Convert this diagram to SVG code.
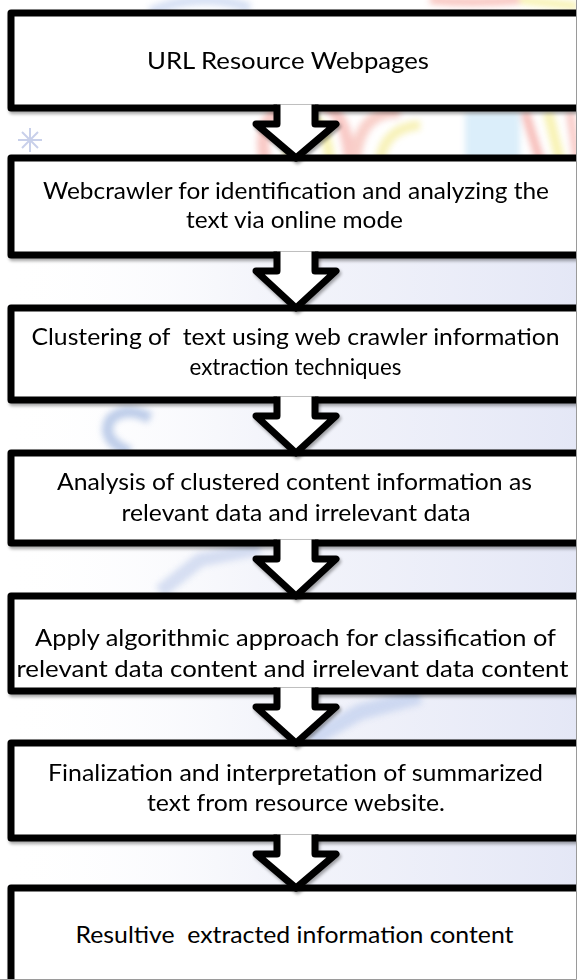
<svg xmlns="http://www.w3.org/2000/svg" width="577" height="980" viewBox="0 0 577 980">
  <style>
    .box { fill: #ffffff; stroke: #000000; stroke-width: 7; stroke-linejoin: round; filter: url(#shade); }
    .arrow { fill: #ffffff; stroke: #000000; stroke-width: 7; stroke-linejoin: round; stroke-linecap: butt; filter: url(#shade); }
    .label { font-family: Lato, "Open Sans", "Liberation Sans", sans-serif; font-size: 24px; fill: #000000; text-anchor: middle; }
    .wm { filter: url(#soft); }
  </style>
  <defs>
    <filter id="shade" x="-5%" y="-10%" width="115%" height="130%">
      <feDropShadow dx="1.5" dy="2.5" stdDeviation="1.5" flood-color="#000000" flood-opacity="0.35"/>
    </filter>
    <filter id="soft" x="-20%" y="-20%" width="140%" height="140%">
      <feGaussianBlur stdDeviation="3"/>
    </filter>
    <linearGradient id="haze" x1="0" y1="0" x2="1" y2="0">
      <stop offset="0" stop-color="#ffffff" stop-opacity="0"/>
      <stop offset="0.45" stop-color="#eceef8" stop-opacity="0.6"/>
      <stop offset="1" stop-color="#e4e7f6" stop-opacity="1"/>
    </linearGradient>
  </defs>

  <!-- faded backdrop artwork -->
  <g id="backdrop">
    <rect x="0" y="0" width="577" height="980" fill="#ffffff"/>
    <rect x="0" y="250" width="577" height="730" fill="url(#haze)"/>
    <g class="wm" opacity="0.75">
      <path d="M150 12 Q200 -10 250 8" fill="none" stroke="#c9d6f0" stroke-width="10"/>
      <path d="M265 160 Q255 110 300 100 Q345 95 350 160" fill="none" stroke="#f7b7b2" stroke-width="12"/>
      <path d="M290 160 Q285 125 305 118 Q325 115 330 160" fill="none" stroke="#f6ef9c" stroke-width="10"/>
      <path d="M355 160 Q360 110 400 112" fill="none" stroke="#f7c0b8" stroke-width="12"/>
      <path d="M380 160 Q385 128 420 125" fill="none" stroke="#f5eda0" stroke-width="10"/>
      <rect x="465" y="112" width="55" height="48" fill="#cfe8f8"/>
      <path d="M525 112 L540 160" stroke="#f4a7a2" stroke-width="9"/>
      <path d="M548 112 L560 160" stroke="#f6ee9a" stroke-width="10"/>
      <path d="M570 112 L577 160" stroke="#f7b7b2" stroke-width="8"/>
      <path d="M430 0 Q470 4 520 0" fill="none" stroke="#f6b0a8" stroke-width="8"/>
      <path d="M520 0 L577 6" stroke="#f6ee9a" stroke-width="8"/>
      <path d="M280 258 L300 305 L320 258 Z" fill="#f3d2d8" opacity="0.7"/>
      <path d="M130 452 Q100 440 110 420 Q125 405 150 418" fill="none" stroke="#a9bde2" stroke-width="11"/>
      <path d="M160 592 L200 560 L260 548" fill="none" stroke="#c9d4ee" stroke-width="14"/>
      <path d="M310 740 L360 712 L420 696" fill="none" stroke="#c2d0ee" stroke-width="16"/>
    </g>
    <g stroke="#c3cbe8" stroke-width="2" opacity="0.9">
      <path d="M30 128 L30 152 M18 140 L42 140 M22 132 L38 148 M22 148 L38 132"/>
    </g>
  </g>

  <!-- process steps -->
  <g id="step1">
    <rect class="box" x="11" y="13" width="570" height="95"/>
    <text class="label" x="288" y="69" textLength="282" lengthAdjust="spacingAndGlyphs">URL Resource Webpages</text>
  </g>
  <g id="step2">
    <rect class="box" x="11" y="158" width="570" height="97"/>
    <text class="label" x="296" y="199" textLength="506" lengthAdjust="spacingAndGlyphs">Webcrawler for identification and analyzing the</text>
    <text class="label" x="294.5" y="228" textLength="217" lengthAdjust="spacingAndGlyphs">text via online mode</text>
  </g>
  <g id="step3">
    <rect class="box" x="11" y="308" width="570" height="92"/>
    <text class="label" x="295.5" y="345" textLength="528" lengthAdjust="spacingAndGlyphs" xml:space="preserve">Clustering of  text using web crawler information</text>
    <text class="label" x="295.5" y="375" textLength="212" lengthAdjust="spacingAndGlyphs">extraction techniques</text>
  </g>
  <g id="step4">
    <rect class="box" x="11" y="453" width="570" height="90"/>
    <text class="label" x="294.5" y="490" textLength="475" lengthAdjust="spacingAndGlyphs">Analysis of clustered content information as</text>
    <text class="label" x="296" y="521" textLength="349" lengthAdjust="spacingAndGlyphs">relevant data and irrelevant data</text>
  </g>
  <g id="step5">
    <rect class="box" x="11" y="596" width="570" height="95"/>
    <text class="label" x="295.5" y="646" textLength="521" lengthAdjust="spacingAndGlyphs">Apply algorithmic approach for classification of</text>
    <text class="label" x="292.5" y="677" textLength="552" lengthAdjust="spacingAndGlyphs">relevant data content and irrelevant data content</text>
  </g>
  <g id="step6">
    <rect class="box" x="11" y="743" width="570" height="95"/>
    <text class="label" x="295.5" y="781" textLength="495" lengthAdjust="spacingAndGlyphs">Finalization and interpretation of summarized</text>
    <text class="label" x="296" y="811" textLength="298" lengthAdjust="spacingAndGlyphs">text from resource website.</text>
  </g>
  <g id="step7">
    <rect class="box" x="11" y="888" width="570" height="120"/>
    <text class="label" x="294.5" y="943" textLength="438" lengthAdjust="spacingAndGlyphs" xml:space="preserve">Resultive  extracted information content</text>
  </g>

  <!-- block arrows between consecutive steps -->
  <g id="connectors">
    <path class="arrow" d="M277 104.5 V124 H256 L296 158 L336 124 H315 V104.5"/>
    <path class="arrow" d="M277 251.5 V271 H256 L296 308 L336 271 H315 V251.5"/>
    <path class="arrow" d="M277 396.5 V416 H256 L296 453 L336 416 H315 V396.5"/>
    <path class="arrow" d="M277 539.5 V559 H256 L296 596 L336 559 H315 V539.5"/>
    <path class="arrow" d="M277 687.5 V707 H256 L296 743 L336 707 H315 V687.5"/>
    <path class="arrow" d="M277 834.5 V854 H256 L296 888 L336 854 H315 V834.5"/>
  </g>

  <!-- edge of the printed frame -->
  <path d="M576.5 0 V979.5 H0" fill="none" stroke="#9a9a9a" stroke-width="1"/>
</svg>
